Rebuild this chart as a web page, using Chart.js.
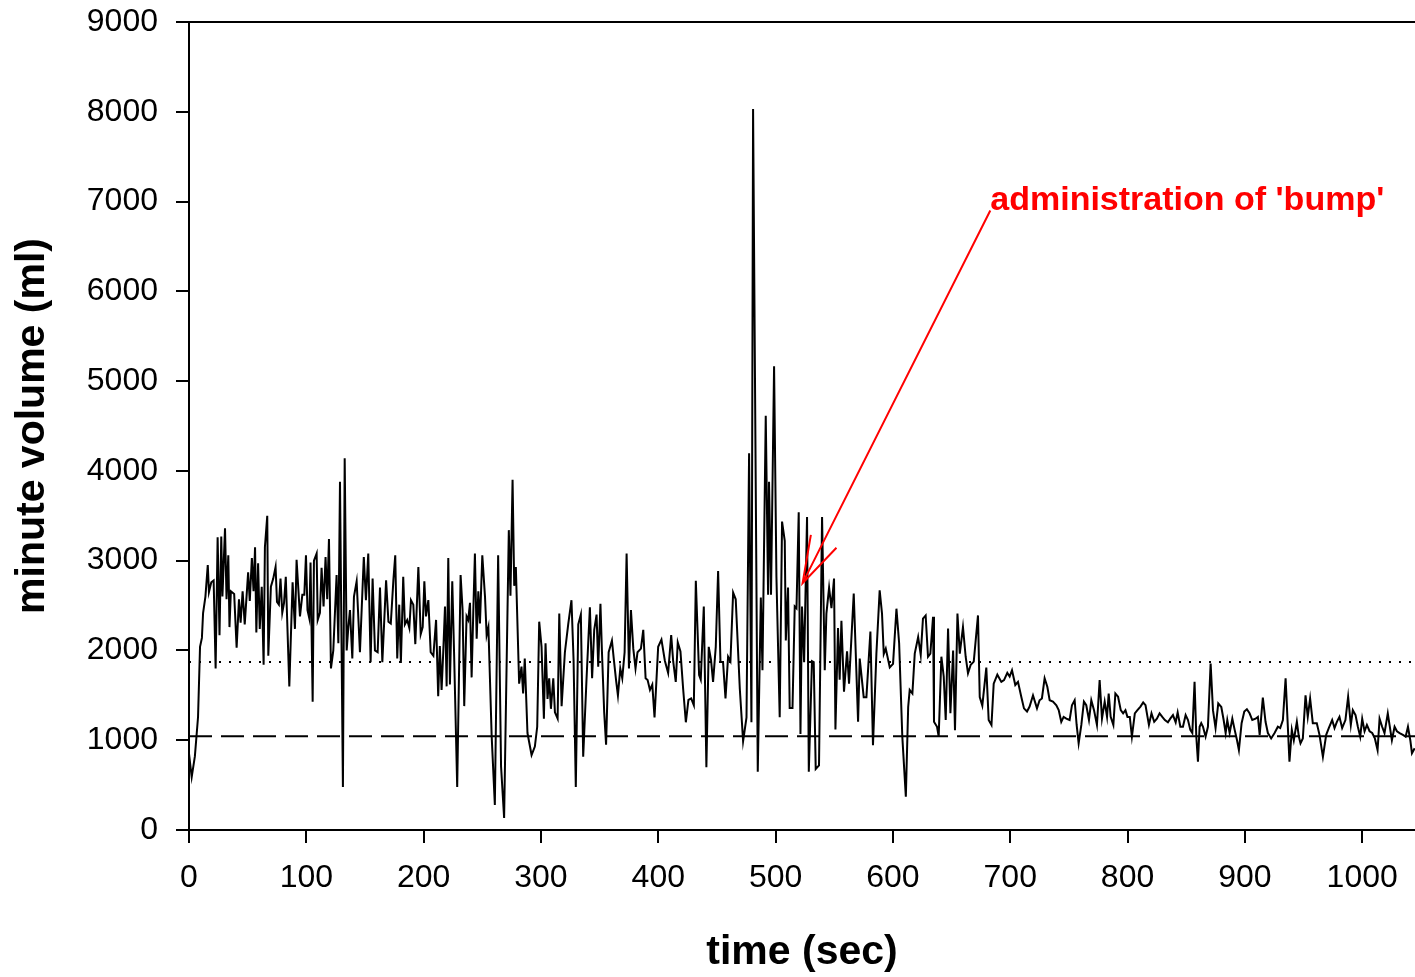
<!DOCTYPE html>
<html>
<head>
<meta charset="utf-8">
<script src="https://cdn.jsdelivr.net/npm/chart.js@4.4.1/dist/chart.umd.min.js"></script>
<style>
    html, body { margin: 0; padding: 0; background: #fff; }
    #wrap { width: 1415px; height: 977px; position: relative; }
</style>
</head>
<body>
<div id="wrap"><canvas id="mvChart"></canvas></div>
<script>
// time (sec)
const timeSec = [
    0, 2.3, 5, 7.7, 9.4, 11, 12, 14, 16, 17,
    19, 21, 22.7, 24.4, 26, 27.5, 28.5, 30.7, 32, 33.5,
    34.5, 35.7, 38.5, 40.6, 42.6, 44, 45.7, 47.5, 50.4, 51.8,
    53.6, 55, 56.3, 57.4, 58.9, 60.3, 62, 63.6, 64.7, 66.7,
    67.6, 69.8, 71.8, 73.8, 75, 76.6, 78, 79.5, 81, 82.5,
    85.5, 88.3, 90.3, 91.7, 94.6, 96.6, 98.3, 99.7, 101, 102.5,
    103.6, 105.4, 106.5, 108.8, 109.7, 111.6, 113, 114.7, 116.4, 117.8,
    119.3, 121, 123, 125.8, 127.3, 128.7, 131.2, 132.7, 134.4, 135.8,
    137.2, 139.2, 140.6, 142.9, 145.7, 149, 150.8, 152.8, 154.8, 156.5,
    158.5, 160.8, 162.8, 164.8, 168, 170, 172, 174.2, 175.8, 177.5,
    179.2, 180.6, 182.6, 184, 186, 187.8, 189.2, 191.2, 192.9, 195.5,
    197.5, 199.2, 200.6, 202, 204, 206, 208.3, 210.6, 212.4, 213.8,
    215.3, 216.7, 218.2, 219.6, 221, 222.4, 224.4, 226, 228.6, 231.5,
    233.2, 234.6, 236.6, 238, 239.5, 240.9, 242.3, 243.7, 245.2, 246.6,
    248, 250, 252.3, 253.7, 255.2, 258, 260.7, 263.5, 266, 268.6,
    272.6, 274, 275.8, 277.2, 278.6, 281.4, 283.4, 284.8, 286.2, 288.5,
    292, 294.8, 296.8, 298.5, 300.5, 302.5, 303.9, 305.6, 307, 308.5,
    310.5, 311.9, 314.2, 315.6, 317.6, 320.4, 323.3, 326, 327.8, 329.7,
    331.8, 334, 336, 338.8, 341.7, 343.6, 345.4, 347.4, 348.8, 350.7,
    352, 353.9, 355.5, 357.7, 360.5, 362.2, 364, 365.6, 367.6, 369.3,
    371.3, 373, 375, 376.7, 378.7, 380.6, 382.3, 385.2, 387.2, 389.2,
    390.9, 392.9, 394.9, 396.8, 399.9, 402.7, 405.6, 408.4, 411, 412.7,
    414.9, 416.6, 418.9, 421.2, 423.5, 425.7, 428, 430.3, 432, 434.8,
    436.2, 438.8, 441, 443, 445, 446.7, 449, 451, 453, 455.2,
    457.3, 459.5, 461.5, 463.8, 466, 469.5, 472.3, 475.2, 477.4, 479.4,
    480.8, 484.8, 487.4, 488.8, 491.6, 493.6, 494.4, 496.1, 498.7, 500.7,
    503.5, 505.5, 507.8, 508.7, 510.6, 512, 514.4, 516.3, 517.8, 519.7,
    521.2, 522.5, 524.3, 526.8, 528.3, 531, 532.5, 534.2, 537, 539.6,
    541.9, 543.3, 545.6, 547.6, 549.8, 551, 553.2, 554.6, 556.1, 558.3,
    560.9, 562.6, 566.6, 570.3, 571.7, 575.1, 577.4, 580.8, 583, 585.9,
    588.7, 590.7, 592.2, 593.9, 597.3, 600.1, 603, 605.3, 608, 611,
    613, 614.3, 616.6, 618.6, 621.5, 623.7, 625.6, 627.9, 629.9, 631.9,
    634.2, 635, 637.6, 639, 641.3, 643.3, 645, 647, 649, 651.3,
    652.9, 655, 657, 659.7, 662, 664, 666.3, 668.9, 672.5, 674,
    676.2, 679.6, 681.6, 684, 685.9, 689, 692.4, 694.7, 697.5, 699.5,
    701.5, 704.3, 706.6, 709.4, 711.7, 714.3, 716.5, 719.4, 722.8, 725,
    727, 729.3, 731.6, 733.6, 736.4, 739.3, 741.3, 743.5, 745.5, 747.8,
    750.6, 752.6, 754.9, 756.6, 758.3, 760.6, 762.8, 764.8, 767.1, 769.1,
    771.4, 773.9, 776.2, 778.2, 780.5, 782.5, 783.9, 785.6, 787.9, 789.6,
    791.9, 794.2, 796.2, 798.2, 799.9, 801.9, 803.7, 806.2, 808.4, 811,
    813.3, 815.3, 817, 818.2, 820.4, 822.7, 825, 827.3, 829.6, 831.8,
    834.4, 836.4, 838.7, 841, 842.7, 845, 847.2, 849.5, 851.5, 853.5,
    855.2, 857.1, 858.6, 860, 861.4, 862.8, 864.3, 866.5, 868.5, 870.8,
    872.8, 875, 877.3, 879.9, 881.9, 883.6, 885, 887, 889.3, 891.3,
    893.3, 894.9, 897.2, 899.5, 901.7, 904, 906.3, 909.1, 911.1, 912.6,
    915.3, 917.6, 919.6, 922.4, 925.3, 928.1, 930.1, 932.4, 934.7, 938,
    940, 941.7, 944.3, 946, 947.4, 949.4, 951.7, 953.6, 955.6, 957.9,
    961.3, 963.6, 966.5, 969.3, 971.5, 974.4, 976.4, 978.4, 980.6, 982.9,
    985.7, 988, 990.3, 992, 994.3, 996.3, 998.3, 1000, 1002, 1004,
    1006.3, 1008.5, 1010.8, 1013.1, 1014.8, 1017, 1019, 1021.8, 1023.3, 1025.3,
    1027.6, 1029.6, 1031.9, 1034.7, 1037, 1039, 1041, 1042.4, 1044.7
];

// minute volume (ml)
const minuteVolume = [
    850, 590, 820, 1258, 2040, 2140, 2416, 2600, 2950, 2650,
    2760, 2780, 1800, 3260, 2170, 3270, 2600, 3360, 2570, 3060,
    2260, 2660, 2630, 2030, 2570, 2310, 2660, 2290, 2870, 2550,
    3030, 2660, 3150, 2200, 2970, 2240, 2710, 1840, 3150, 3500,
    1940, 2710, 2800, 2930, 2540, 2510, 2800, 2420, 2530, 2820,
    1600, 2760, 2240, 3010, 2380, 2620, 2620, 3060, 2450, 2360,
    2980, 1430, 3000, 3080, 2340, 2420, 2920, 2490, 3040, 2570,
    3240, 1800, 2000, 2840, 2080, 3880, 480, 4140, 2000, 2260,
    2450, 1910, 2600, 2770, 1980, 3040, 2560, 3080, 1870, 2800,
    2000, 1980, 2700, 1870, 2780, 2320, 2300, 2780, 3060, 1910,
    2510, 1860, 2820, 2290, 2340, 2250, 2560, 2510, 2070, 2930,
    2180, 2260, 2770, 2380, 2560, 1980, 1940, 2340, 1490, 2050,
    1560, 1980, 2490, 1600, 3030, 1620, 2770, 1940, 480, 2840,
    2450, 1380, 2380, 2340, 2530, 1700, 2420, 3080, 2130, 2660,
    2300, 3060, 2600, 2170, 2260, 1040, 280, 3060, 705, 134,
    3340, 2610, 3900, 2720, 2930, 1630, 1820, 1520, 1910, 1080,
    835, 930, 1150, 2320, 2040, 1240, 2080, 1460, 1690, 1350,
    1690, 1310, 1240, 2410, 1380, 1980, 2300, 2560, 1890, 480,
    2290, 2400, 815, 1670, 2480, 1690, 2230, 2400, 1820, 2520,
    1980, 1310, 950, 1980, 2110, 1890, 1670, 1500, 1800, 1690,
    1980, 3080, 1800, 2450, 2020, 1800, 1980, 2020, 2230, 1690,
    1670, 1560, 1620, 1255, 2040, 2120, 1885, 1750, 2170, 1880,
    1650, 2090, 1990, 1570, 1200, 1450, 1465, 1390, 2775, 1725,
    1675, 2490, 700, 2040, 1890, 1650, 2040, 2885, 1870, 1870,
    1465, 1930, 1880, 2645, 2570, 1570, 990, 1255, 4195, 1200,
    8030, 650, 2590, 1780, 4615, 2620, 3880, 2620, 5165, 2820,
    1255, 3435, 3220, 2110, 2700, 1360, 1360, 2490, 2470, 3540,
    1070, 2490, 1870, 3485, 650, 1880, 1870, 680, 720, 3485,
    1780, 2410, 2700, 2470, 2800, 1120, 2250, 1675, 2330, 1540,
    1990, 1630, 2635, 1205, 1910, 1480, 1480, 2210, 945, 1960,
    2670, 2410, 1960, 2020, 1810, 1850, 2465, 2080, 1040, 370,
    1370, 1560, 1520, 1965, 2150, 1950, 2355, 2390, 1930, 1965,
    2375, 1205, 1150, 1040, 1930, 1710, 1225, 2245, 1300, 2000,
    1110, 2410, 1965, 2260, 1930, 1745, 1840, 1875, 2390, 1480,
    1385, 1810, 1225, 1170, 1630, 1730, 1650, 1670, 1750, 1710,
    1780, 1615, 1650, 1485, 1355, 1320, 1375, 1500, 1355, 1445,
    1465, 1690, 1595, 1445, 1430, 1390, 1335, 1205, 1260, 1240,
    1225, 1390, 1445, 1170, 965, 1170, 1430, 1390, 1225, 1445,
    1335, 1170, 1670, 1240, 1430, 1260, 1520, 1260, 1170, 1520,
    1485, 1335, 1300, 1335, 1260, 1260, 1040, 1300, 1335, 1375,
    1420, 1390, 1260, 1170, 1300, 1205, 1240, 1300, 1260, 1225,
    1200, 1240, 1280, 1200, 1310, 1150, 1150, 1280, 1225, 1115,
    1080, 1650, 1040, 760, 1150, 1190, 1150, 1040, 1150, 1855,
    1335, 1135, 1410, 1370, 1225, 1080, 1225, 1080, 1240, 1115,
    1000, 890, 1190, 1320, 1345, 1300, 1225, 1240, 1260, 1060,
    1475, 1205, 1080, 1020, 1080, 1150, 1135, 1225, 1690, 760,
    1115, 1000, 1205, 1040, 965, 1020, 1500, 1260, 1465, 1190,
    1190, 1060, 815, 1060, 1135, 1225, 1135, 1205, 1260, 1135,
    1225, 1485, 1170, 1335, 1280, 1150, 1040, 1240, 1100, 1170,
    1100, 1080, 1020, 890, 1240, 1150, 1080, 1300, 1170, 1000,
    1150, 1100, 1080, 1060, 1040, 1150, 1000, 855, 910
];

// horizontal reference levels (ml)
const dottedLevel = 1870;
const dashedLevel = 1045;

const xRange = [0, 1045];
const yRange = [0, 9000];

const bumpNote = {
    text: "administration of 'bump'",
    tipSec: 523, tipMl: 2750,
    labelSec: 683, labelMl: 6900
};

const FONT = 'Arial, "Liberation Sans", sans-serif';

const frameAndNote = {
    id: 'frameAndNote',
    afterDraw(chart) {
        const { ctx, chartArea, scales } = chart;
        ctx.save();
        // top frame line
        ctx.strokeStyle = '#000';
        ctx.lineWidth = 2;
        ctx.beginPath();
        ctx.moveTo(chartArea.left - 1, chartArea.top);
        ctx.lineTo(chartArea.right, chartArea.top);
        ctx.stroke();

        // annotation arrow + label
        const x0 = scales.x.getPixelForValue(bumpNote.labelSec);
        const y0 = scales.y.getPixelForValue(bumpNote.labelMl);
        const x1 = scales.x.getPixelForValue(bumpNote.tipSec);
        const y1 = scales.y.getPixelForValue(bumpNote.tipMl);
        ctx.strokeStyle = '#ff0000';
        ctx.lineWidth = 2;
        ctx.beginPath();
        ctx.moveTo(x0, y0);
        ctx.lineTo(x1, y1);
        const ang = Math.atan2(y0 - y1, x0 - x1);
        const len = 49, spread = 17 * Math.PI / 180;
        ctx.moveTo(x1 + len * Math.cos(ang - spread), y1 + len * Math.sin(ang - spread));
        ctx.lineTo(x1, y1);
        ctx.lineTo(x1 + len * Math.cos(ang + spread), y1 + len * Math.sin(ang + spread));
        ctx.stroke();

        ctx.fillStyle = '#ff0000';
        ctx.font = 'bold 34px ' + FONT;
        ctx.textAlign = 'left';
        ctx.textBaseline = 'alphabetic';
        ctx.fillText(bumpNote.text, x0, y0 - 1);
        ctx.restore();
    }
};

const ctx = document.getElementById('mvChart').getContext('2d');
const mvChart = new Chart(ctx, {
    type: 'line',
    data: {
        datasets: [
            {
                label: 'dotted',
                data: [{ x: xRange[0], y: dottedLevel }, { x: xRange[1], y: dottedLevel }],
                borderColor: '#000',
                borderWidth: 2,
                borderDash: [2, 8],
                pointRadius: 0
            },
            {
                label: 'dashed',
                data: [{ x: xRange[0], y: dashedLevel }, { x: xRange[1], y: dashedLevel }],
                borderColor: '#000',
                borderWidth: 2,
                borderDash: [23, 9],
                pointRadius: 0
            },
            {
                label: 'minute volume',
                data: timeSec.map((t, i) => ({ x: t, y: minuteVolume[i] })),
                borderColor: '#000',
                borderWidth: 2,
                pointRadius: 0,
                tension: 0
            }
        ]
    },
    options: {
        responsive: true,
        maintainAspectRatio: false,
        animation: false,
        layout: { padding: { top: 22, right: 0, left: 0, bottom: 0 } },
        plugins: {
            legend: { display: false },
            tooltip: { enabled: false }
        },
        scales: {
            x: {
                type: 'linear',
                min: xRange[0],
                max: xRange[1],
                afterFit: s => { s.height = 147; s.paddingLeft = 0; s.paddingRight = 0; },
                grid: { drawOnChartArea: false, tickLength: 13, color: '#000', lineWidth: 2 },
                border: { color: '#000', width: 2 },
                ticks: {
                    stepSize: 100,
                    includeBounds: false,
                    color: '#000',
                    padding: 16,
                    maxRotation: 0,
                    callback: v => String(v),
                    font: { family: FONT, size: 32 }
                },
                title: {
                    display: true,
                    text: 'time (sec)',
                    color: '#000',
                    padding: { top: 0, bottom: 0 },
                    font: { family: FONT, size: 41, weight: 'bold', lineHeight: 1.2 }
                }
            },
            y: {
                min: yRange[0],
                max: yRange[1],
                afterFit: s => { s.width = 189; s.paddingTop = 0; s.paddingBottom = 0; },
                grid: { drawOnChartArea: false, tickLength: 13, color: '#000', lineWidth: 2 },
                border: { color: '#000', width: 2 },
                ticks: {
                    stepSize: 1000,
                    color: '#000',
                    padding: 18,
                    callback: v => String(v),
                    font: { family: FONT, size: 32 }
                },
                title: {
                    display: true,
                    text: 'minute volume (ml)',
                    color: '#000',
                    padding: { top: 8, bottom: 0 },
                    font: { family: FONT, size: 41, weight: 'bold', lineHeight: 1.2 }
                }
            }
        }
    },
    plugins: [frameAndNote]
});
</script>
</body>
</html>
